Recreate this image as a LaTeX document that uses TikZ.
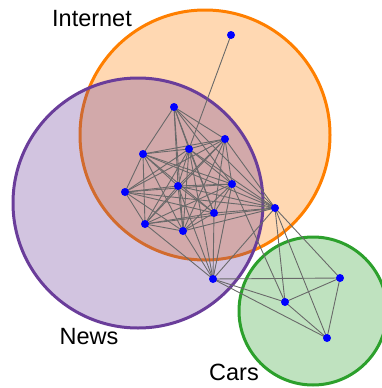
\documentclass[tikz,border=0pt]{standalone}
\usepackage{fontspec}
\setmainfont{Liberation Sans}
\definecolor{corange}{RGB}{255,127,0}
\definecolor{cpurple}{RGB}{106,61,154}
\definecolor{cgreen}{RGB}{44,160,44}
\definecolor{cedge}{RGB}{105,105,105}
\pgfdeclarelayer{setlayer}
\pgfdeclarelayer{edgelayer}
\pgfsetlayers{setlayer,edgelayer,main}
\tikzset{
  setcircle/.style={line width=3pt, fill opacity=0.3},
  vtx/.style={circle, fill=blue, inner sep=0pt, minimum size=8pt},
  edge/.style={draw=cedge, line width=0.9pt},
  lbl/.style={anchor=base, font=\fontsize{23.5}{28}\selectfont}
}
\begin{document}
\begin{tikzpicture}[x=1pt,y=-1pt]
\useasboundingbox (0,0) rectangle (381,388);
\clip (0,0) rectangle (381,388);
% sets
\begin{pgfonlayer}{setlayer}
\draw[setcircle, draw=corange, fill=corange] (205,135) circle[radius=125];
\draw[setcircle, draw=cpurple, fill=cpurple] (138,203) circle[radius=125];
\draw[setcircle, draw=cgreen, fill=cgreen] (313,311) circle[radius=74];
\end{pgfonlayer}
% labels
\node[lbl] (tInternet) at (92,26) {Internet};
\node[lbl] (tNews) at (89,344) {News};
\node[lbl] (tCars) at (234,380) {Cars};
% vertices
\node[vtx] (top) at (231,35) {};
\node[vtx] (a) at (174,107) {};
\node[vtx] (b) at (225,139) {};
\node[vtx] (c) at (189,149) {};
\node[vtx] (d) at (143,154) {};
\node[vtx] (e) at (178,186) {};
\node[vtx] (f) at (232,184) {};
\node[vtx] (g) at (125,192) {};
\node[vtx] (h) at (214,213) {};
\node[vtx] (i) at (145,224) {};
\node[vtx] (j) at (183,231) {};
\node[vtx] (k) at (275,208) {};
\node[vtx] (l) at (213,279) {};
\node[vtx] (m) at (340,278) {};
\node[vtx] (n) at (285,302) {};
\node[vtx] (o) at (327,338) {};
% edges
\begin{pgfonlayer}{edgelayer}
\foreach \u/\v in {top/c,
  a/d,a/c,a/e,a/b,a/f,a/h,a/k,a/j,
  b/c,b/d,b/e,b/f,b/g,b/h,b/i,b/j,b/k,
  c/d,c/e,c/f,c/g,c/h,c/i,c/j,c/k,
  d/e,d/f,d/g,d/h,d/i,d/j,d/k,
  e/f,e/g,e/h,e/i,e/j,e/k,
  f/g,f/h,f/i,f/j,f/k,
  g/h,g/i,g/j,g/k,
  h/i,h/j,h/k,
  i/j,i/k,j/k,
  l/i,l/j,l/e,l/c,l/h,l/f,l/k,
  l/m,l/n,l/o,k/m,k/n,k/o,f/n,m/n,m/o,n/o}
  \draw[edge] (\u.center) -- (\v.center);
\end{pgfonlayer}
\end{tikzpicture}
\end{document}
